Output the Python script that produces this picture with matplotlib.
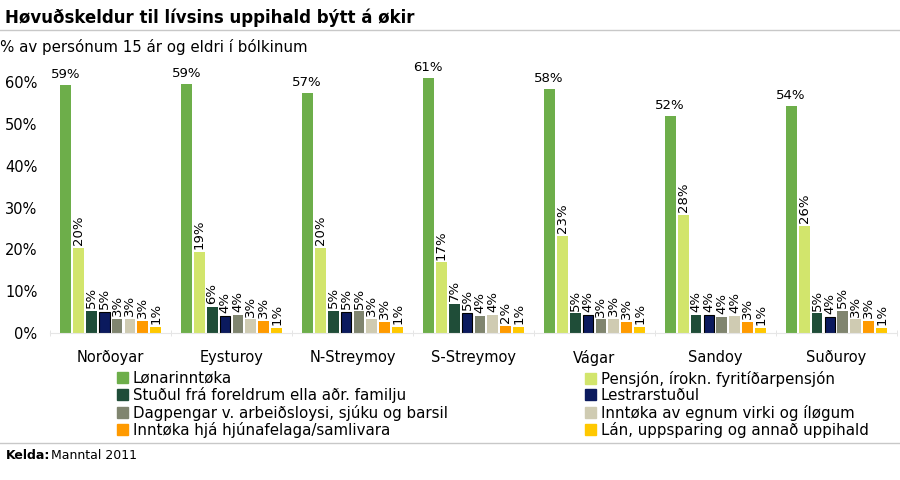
import numpy as np
import matplotlib.pyplot as plt
from matplotlib.lines import Line2D
from matplotlib.patches import Patch

# data (% of persons aged 15+)
regions = ['Norðoyar', 'Eysturoy', 'N-Streymoy', 'S-Streymoy', 'Vágar', 'Sandoy', 'Suðuroy']
series_names = [
    'Lønarinntøka',
    'Pensjón, írokn. fyritíðarpensjón',
    'Stuðul frá foreldrum ella aðr. familju',
    'Lestrarstuðul',
    'Dagpengar v. arbeiðsloysi, sjúku og barsil',
    'Inntøka av egnum virki og íløgum',
    'Inntøka hjá hjúnafelaga/samlivara',
    'Lán, uppsparing og annað uppihald',
]
lonarinntoka = [59.2, 59.4, 57.3, 60.9, 58.2, 51.8, 54.2]
pensjon = [20.4, 19.4, 20.4, 16.9, 23.3, 28.2, 25.7]
studul_familju = [5.4, 6.3, 5.4, 6.9, 4.7, 4.4, 4.7]
lestrarstudul = [5.1, 4.1, 5.1, 4.9, 4.4, 4.4, 3.9]
dagpengar = [3.4, 4.4, 5.2, 4.1, 3.3, 3.9, 5.3]
egnum_virki = [3.4, 3.3, 3.4, 4.4, 3.4, 4.2, 3.3]
hjunafelaga = [2.9, 2.9, 2.7, 1.8, 2.7, 2.7, 2.9]
lan = [1.4, 1.3, 1.4, 1.4, 1.4, 1.2, 1.3]

values = [lonarinntoka, pensjon, studul_familju, lestrarstudul,
          dagpengar, egnum_virki, hjunafelaga, lan]
colors = ['#6dae4a', '#d2e56c', '#1f4d38', '#0b1a5e',
          '#80856f', '#cfcbb2', '#ff9a00', '#ffc800']
edges = [None, None, None, '#000000', None, None, None, None]

fig = plt.figure(figsize=(9, 4.8), dpi=100)
ax = fig.add_axes([0.0556, 0.306, 0.941, 0.567])

x = np.arange(len(regions))
slot = 0.107
width = 0.09
handles = []
for i, (vals, c) in enumerate(zip(values, colors)):
    pos = x + (i - 3.5) * slot
    ec = edges[i] if edges[i] else c
    bars = ax.bar(pos, vals, width=width, color=c, edgecolor=ec, linewidth=0.8 if edges[i] else 0)
    handles.append(Patch(facecolor=c, edgecolor=c))
    for b, v in zip(bars, vals):
        cx = b.get_x() + b.get_width() / 2
        if i == 0:
            ax.annotate('%.0f%%' % v, (cx, v), xytext=(0, 3), textcoords='offset points',
                        ha='center', va='bottom', fontsize=9.5)
        else:
            ax.annotate('%.0f%%' % v, (cx, v), xytext=(0, 2), textcoords='offset points',
                        ha='center', va='bottom', rotation=90, fontsize=9.5)

ax.set_xlim(-0.5, len(regions) - 0.5)
ax.set_ylim(0, 65)
ax.set_yticks(np.arange(0, 61, 10))
ax.set_yticklabels(['%d%%' % t for t in range(0, 61, 10)], fontsize=10.5)
ax.set_xticks(x)
ax.set_xticklabels(regions, fontsize=10.5)
ax.tick_params(axis='y', length=0, pad=9)
ax.tick_params(axis='x', length=0, pad=12)
ax.set_xticks(np.arange(-0.5, len(regions)), minor=True)
ax.tick_params(axis='x', which='minor', length=4, color='#e0e0e0', direction='inout')
for s in ['top', 'right', 'left']:
    ax.spines[s].set_visible(False)
ax.spines['bottom'].set_color('#e6e6e6')

# legend in two columns, row order as in the original
leg_kw = dict(loc='upper left', frameon=False, fontsize=10.8, handlelength=0.75,
              handleheight=0.75, handletextpad=0.3, labelspacing=0.1,
              borderaxespad=0, borderpad=0)
ax.legend([handles[i] for i in (0, 2, 4, 6)], [series_names[i] for i in (0, 2, 4, 6)],
          bbox_to_anchor=(0.13, 0.228), bbox_transform=fig.transFigure, **leg_kw)
fig.legend([handles[i] for i in (1, 3, 5, 7)], [series_names[i] for i in (1, 3, 5, 7)],
           bbox_to_anchor=(0.65, 0.228), **leg_kw)

fig.text(0.006, 0.962, 'Høvuðskeldur til lívsins uppihald býtt á økir', fontsize=12,
         fontweight='bold', va='center')
fig.add_artist(Line2D([0, 1], [0.937, 0.937], color='#c8c8c8', linewidth=1))
fig.text(0.0, 0.903, '% av persónum 15 ár og eldri í bólkinum', fontsize=10.8, va='center')
fig.add_artist(Line2D([0, 1], [0.077, 0.077], color='#c8c8c8', linewidth=1))
fig.text(0.006, 0.052, 'Kelda:', fontsize=9, fontweight='bold', va='center')
fig.text(0.057, 0.052, 'Manntal 2011', fontsize=9, va='center')

fig.savefig('out.png', dpi=100, facecolor='white')
